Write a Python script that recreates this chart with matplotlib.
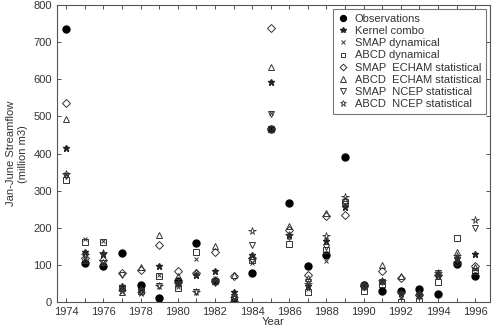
import numpy as np
import matplotlib.pyplot as plt
from matplotlib.ticker import MultipleLocator

plt.rcParams['font.family'] = ['Liberation Sans', 'DejaVu Sans']

years = np.arange(1974, 1997)

obs = [735, 105, 97, 132, 47, 13, 57, 160, 58, 2, 80, 467, 268, 98, 128, 392,
       48, 30, 30, 35, 22, 103, 70]
kernel = [415, 135, 130, 45, 35, 97, 52, 75, 85, 27, 128, 592, 182, 45, 165, 258,
          50, 58, 25, 22, 75, 120, 130]
smap_dyn = [345, 170, 165, 35, 25, 75, 42, 118, 67, 10, 105, 510, 175, 35, 112, 262,
            40, 55, 15, 15, 72, 115, 90]
abcd_dyn = [328, 163, 163, 40, 30, 72, 40, 135, 59, 8, 115, 467, 158, 27, 140, 270,
            30, 50, 2, 5, 55, 172, 85]
smap_echam = [535, 120, 115, 80, 88, 155, 85, 78, 136, 72, 120, 738, 195, 75, 232, 234,
              45, 85, 65, 20, 75, 110, 98]
abcd_echam = [493, 115, 110, 27, 95, 182, 72, 82, 152, 75, 125, 633, 205, 65, 240, 275,
              50, 100, 70, 25, 78, 135, 95]
smap_ncep = [340, 125, 105, 75, 30, 45, 50, 28, 53, 15, 155, 507, 175, 55, 148, 265,
             42, 55, 20, 18, 78, 115, 200]
abcd_ncep = [345, 128, 132, 30, 25, 45, 50, 28, 60, 12, 193, 467, 182, 50, 180, 283,
             45, 58, 22, 20, 80, 125, 222]

fig = plt.figure(figsize=(4.95, 3.27), dpi=100)
ax = fig.add_axes([0.115, 0.075, 0.875, 0.91])

tc = '#333333'
ax.plot(years, obs, 'o', color='k', ms=5, label='Observations')
ax.plot(years, kernel, '*', color='#222222', ms=5, label='Kernel combo')
ax.plot(years, smap_dyn, 'x', color='#333333', ms=3.5, mew=0.7, label='SMAP dynamical')
ax.plot(years, abcd_dyn, 's', mfc='none', mec='#333333', ms=4, mew=0.7, label='ABCD dynamical')
ax.plot(years, smap_echam, 'D', mfc='none', mec='#333333', ms=4, mew=0.7, label='SMAP  ECHAM statistical')
ax.plot(years, abcd_echam, '^', mfc='none', mec='#333333', ms=5, mew=0.7, label='ABCD  ECHAM statistical')
ax.plot(years, smap_ncep, 'v', mfc='none', mec='#333333', ms=5, mew=0.7, label='SMAP  NCEP statistical')
ax.plot(years, abcd_ncep, '*', mfc='none', mec='#333333', ms=5.5, mew=0.6, label='ABCD  NCEP statistical')

ax.set_xlim(1973.5, 1996.8)
ax.set_ylim(0, 800)
ax.set_xticks(np.arange(1974, 1997, 2))
ax.xaxis.set_minor_locator(MultipleLocator(1))
ax.yaxis.set_major_locator(MultipleLocator(100))
ax.tick_params(which='both', direction='in', top=True, right=True, labelsize=8,
               colors=tc, width=0.6, length=3)
for s in ax.spines.values():
    s.set_color('#555555')
    s.set_linewidth(0.8)

ax.set_ylabel('Jan-June Streamflow\n(million m3)', fontsize=8, color=tc, labelpad=4)
ax.set_xlabel('Year', fontsize=8, color=tc, labelpad=0)

leg = ax.legend(loc='upper right', fontsize=8, frameon=True, fancybox=False,
                edgecolor='#555555', handlelength=1.0, handletextpad=0.6,
                labelspacing=0.2, borderaxespad=0.4, markerscale=0.85)
leg.get_frame().set_linewidth(0.8)
for t in leg.get_texts():
    t.set_color(tc)

fig.savefig('out.png', dpi=100)
